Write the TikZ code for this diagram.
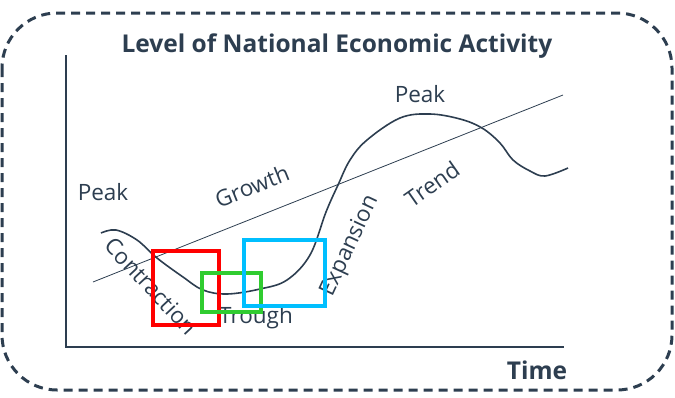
\documentclass[tikz,border=0pt]{standalone}
\usepackage{fontspec}
\setmainfont{Open Sans}
\usepackage{xcolor}
\definecolor{slate}{HTML}{2D3E50}
\definecolor{boxred}{HTML}{FF0000}
\definecolor{boxgreen}{HTML}{30CC30}
\definecolor{boxblue}{HTML}{00BFFF}
\usetikzlibrary{calc,positioning}

\begin{document}
\begin{tikzpicture}[x=1pt,y=-1pt,
	lbl/.style={text=slate,font=\fontsize{22.5}{22.5}\selectfont,inner sep=0pt},
	boldlbl/.style={text=slate,font=\fontsize{24.5}{24.5}\selectfont\bfseries,inner sep=0pt},
	axis/.style={draw=slate,line width=2.5pt},
	curve/.style={draw=slate,line width=1.6pt}]
		\useasboundingbox (0,0) rectangle (675,397);
		\draw[slate,line width=3pt,dash pattern=on 9pt off 6pt,rounded corners=55pt] (2,13) rectangle (672,390);
		
		\node[boldlbl] (title) at (337,46) {Level of National Economic Activity};
		\node[boldlbl] (time) at (537,370) {Time};
		
		\coordinate (top) at (66,55);
		\coordinate (origin) at (66,347);
		\coordinate (right) at (564,347);
		\draw[axis] (top) -- (origin) -- (right);
		
		\coordinate (trendstart) at (93,282);
		\coordinate (trendend) at (563,95);
		\draw[slate,line width=0.8pt] (trendstart) -- (trendend);
		
		\draw[curve] plot[smooth,tension=0.6] coordinates {(101,233) (116,230) (137,240) (157,258) (183,277) (203,290) (227,294) (260,289) (287,280) (310,255) (326,212) (338,185) (350,160) (367,140) (400,118) (430,114) (460,119) (482,128) (500,143) (513,160) (530,171) (545,176) (568,168)};
		
		\node[lbl] (peakleft) at (103,192) {Peak};
		\node[lbl] (peaktop) at (420,94) {Peak};
		\node[lbl,rotate=22] (growth) at (252,186) {Growth};
		\node[lbl,rotate=35] (trend) at (432,184) {Trend};
		\node[lbl,rotate=65] (expansion) at (350,246) {Expansion};
		\node[lbl,rotate=-47] (contraction) at (151,286) {Contraction};
		\node[lbl] (trough) at (256,318) {Trough};
		
		\draw[boxred,line width=3.5pt] (153,251) rectangle (219,325);
		\draw[boxgreen,line width=3.5pt] (202,273) rectangle (261,312);
		\draw[boxblue,line width=3.5pt] (244,240) rectangle (325,306);
\end{tikzpicture}
\end{document}
